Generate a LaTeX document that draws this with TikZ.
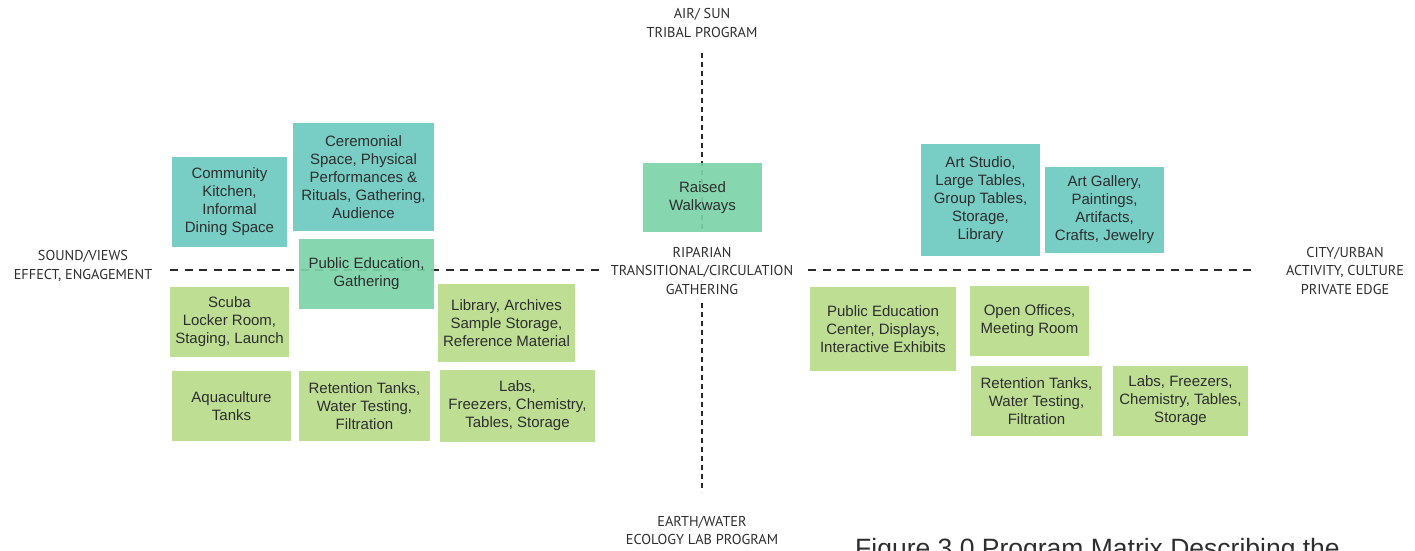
\documentclass[tikz,border=0pt]{standalone}
\usepackage{fontspec}
\setmainfont{Liberation Sans}
\newfontfamily\lblfont{PT Sans}
\definecolor{tealbox}{HTML}{6CC9C0}
\definecolor{mintbox}{HTML}{7CD3A8}
\definecolor{greenbox}{HTML}{B8DC8A}
\definecolor{inkgray}{HTML}{2E2E2E}
\definecolor{linegray}{HTML}{2A2A2A}
\tikzset{
  prog/.style={fill=#1, fill opacity=0.92, text opacity=1, draw=none, inner sep=0pt,
    align=center, text=inkgray, font=\fontsize{15}{18}\selectfont},
  axislbl/.style={align=center, text=inkgray, inner sep=0pt,
    font=\lblfont\fontsize{14.3}{18.5}\selectfont},
  hdash/.style={draw=linegray, line width=1.1pt, dash pattern=on 8pt off 6.5pt},
  vdash/.style={draw=linegray, line width=1.1pt, dash pattern=on 5pt off 4pt},
}
\begin{document}
\begin{tikzpicture}[x=1pt,y=-1pt]
\useasboundingbox (0,0) rectangle (1415,550);
% axes
\coordinate (hl1) at (170,270);
\coordinate (hl2) at (602,270);
\coordinate (hr1) at (808,270);
\coordinate (hr2) at (1255,270);
\coordinate (vt1) at (702,53);
\coordinate (vt2) at (702,232);
\coordinate (vb1) at (702,303);
\coordinate (vb2) at (702,492);
\draw[hdash] (hl1) -- (hl2);
\draw[hdash] (hr1) -- (hr2);
\draw[vdash] (vt1) -- (vt2);
\draw[vdash] (vb1) -- (vb2);
% axis labels
\node[axislbl] (top) at (702,23) {AIR/ SUN\\TRIBAL PROGRAM};
\node[axislbl] (mid) at (702,270.5) {RIPARIAN\\TRANSITIONAL/CIRCULATION\\GATHERING};
\node[axislbl] (bot) at (702,530.5) {EARTH/WATER\\ECOLOGY LAB PROGRAM};
\node[axislbl] (left) at (83,266) {SOUND/VIEWS\\EFFECT, ENGAGEMENT};
\node[axislbl] (right) at (1345,270.5) {CITY/URBAN\\ACTIVITY, CULTURE\\PRIVATE EDGE};
% left cluster
\node[prog=tealbox, minimum width=115, minimum height=90] (kitchen) at (229.5,202)
  {Community\\Kitchen,\\Informal\\Dining Space};
\node[prog=tealbox, minimum width=141, minimum height=108] (ceremonial) at (363.5,177)
  {Ceremonial\\Space, Physical\\Performances \&\\Rituals, Gathering,\\Audience};
\node[prog=mintbox, minimum width=135, minimum height=70] (pubgather) at (366.5,274)
  {\raisebox{3pt}{\parbox{135pt}{\centering Public Education,\\Gathering}}};
\node[prog=greenbox, minimum width=119, minimum height=70] (scuba) at (229.5,322)
  {Scuba\\Locker Room,\\Staging, Launch};
\node[prog=greenbox, minimum width=137, minimum height=78] (library) at (506.5,323)
  {Library, Archives\\Sample Storage,\\Reference Material};
\node[prog=greenbox, minimum width=119, minimum height=70] (aqua) at (231.5,406)
  {Aquaculture\\Tanks};
\node[prog=greenbox, minimum width=131, minimum height=70] (retL) at (364.5,406)
  {Retention Tanks,\\Water Testing,\\Filtration};
\node[prog=greenbox, minimum width=155, minimum height=72] (labsL) at (517.5,406)
  {Labs,\\Freezers, Chemistry,\\Tables, Storage};
% center
\node[prog=mintbox, minimum width=119, minimum height=69] (walk) at (702.5,197.5)
  {Raised\\Walkways};
% right cluster
\node[prog=tealbox, minimum width=119, minimum height=112] (studio) at (980.5,200)
  {Art Studio,\\Large Tables,\\Group Tables,\\Storage,\\Library};
\node[prog=tealbox, minimum width=119, minimum height=86] (gallery) at (1104.5,210)
  {Art Gallery,\\Paintings,\\Artifacts,\\Crafts, Jewelry};
\node[prog=greenbox, minimum width=146, minimum height=84] (pubcenter) at (883,329)
  {Public Education\\Center, Displays,\\Interactive Exhibits};
\node[prog=greenbox, minimum width=119, minimum height=70] (offices) at (1029.5,321)
  {Open Offices,\\Meeting Room};
\node[prog=greenbox, minimum width=131, minimum height=70] (retR) at (1036.5,401)
  {Retention Tanks,\\Water Testing,\\Filtration};
\node[prog=greenbox, minimum width=135, minimum height=70] (labsR) at (1180.5,401)
  {Labs, Freezers,\\Chemistry, Tables,\\Storage};
% caption (cut by the page edge, as in the reference)
\node[anchor=base west, inner sep=0pt, text=inkgray, font=\fontsize{26.5}{30}\selectfont]
  (caption) at (855,557) {Figure 3.0 Program Matrix Describing the};
\end{tikzpicture}
\end{document}
